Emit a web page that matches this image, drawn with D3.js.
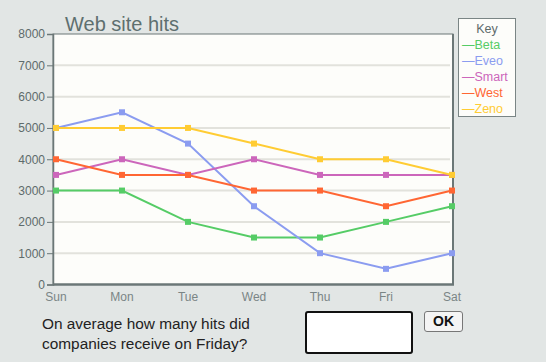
<!DOCTYPE html>
<html>
<head>
<meta charset="utf-8">
<script src="https://cdn.jsdelivr.net/npm/d3@7"></script>
<style>
  body { margin: 0; background: #e2e6e5; font-family: "Liberation Sans", Arial, sans-serif; }
  .canvas { position: relative; width: 546px; height: 362px; }
  .question { position: absolute; left: 42px; top: 314px; font-size: 15.4px; line-height: 20px; color: #222; }
  .answer { position: absolute; left: 305px; top: 311px; width: 104px; height: 39px; border: 2px solid #111; border-radius: 3px; background: #fff; }
  .ok { position: absolute; left: 424px; top: 311px; width: 37px; height: 19px; border: 1px solid #777; border-radius: 3px; background: #f4f4f4; font-weight: bold; font-size: 14px; text-align: center; line-height: 19px; color: #111; }
</style>
</head>
<body>
<div class="canvas"></div>
<script>
const width = 546;
const height = 362;
let [mt, mr, mb, ml] = [34, 93, 77, 53]

const days = ["Sun", "Mon", "Tue", "Wed", "Thu", "Fri", "Sat"]
const names = ["Beta", "Eveo", "Smart", "West", "Zeno"]
const colors = ["#55cc66", "#8b9cf0", "#cc66bb", "#ff6633", "#ffcc33"]
const beta = [3000, 3000, 2000, 1500, 1500, 2000, 2500]
const eveo = [5000, 5500, 4500, 2500, 1000, 500, 1000]
const smart = [3500, 4000, 3500, 4000, 3500, 3500, 3500]
const west = [4000, 3500, 3500, 3000, 3000, 2500, 3000]
const zeno = [5000, 5000, 5000, 4500, 4000, 4000, 3500]
const yTicks = [0, 1000, 2000, 3000, 4000, 5000, 6000, 7000, 8000]

const series = [beta, eveo, smart, west, zeno].map((v, i) => ({name: names[i], color: colors[i], values: v}))

const canvas = d3.select(".canvas")
const svg = canvas.append("svg")
    .attr("width", width)
    .attr("height", height)
    .style("position", "absolute")
    .style("left", 0).style("top", 0)

const x = d3.scalePoint().domain(days).range([56, 452])
const y = d3.scaleLinear().domain([0, 8000]).range([284.5, 34])

// plot area
svg.append("rect")
    .attr("x", ml).attr("y", mt)
    .attr("width", 400).attr("height", 250.5)
    .attr("fill", "#fdfdfa")
    .attr("stroke", "#6b7777").attr("stroke-width", 1)

// gridlines
svg.append("g").selectAll("line")
    .data(yTicks.filter(d => d > 0 && d < 8000))
    .enter().append("line")
    .attr("x1", ml + 1).attr("x2", 450)
    .attr("y1", d => y(d)).attr("y2", d => y(d))
    .attr("stroke", "#e2e2dc").attr("stroke-width", 2)

// right frame
svg.append("line").attr("x1", 453).attr("x2", 453).attr("y1", mt).attr("y2", 285)
    .attr("stroke", "#6b7777").attr("stroke-width", 2)

const yAxis = svg.append("g")
    .attr("transform", `translate(${ml},0)`)
    .call(d3.axisLeft(y).tickValues(yTicks).tickSize(6).tickPadding(2).tickFormat(d3.format("d")))
yAxis.select(".domain").attr("stroke", "#6b7777").attr("stroke-width", 1.5)
yAxis.selectAll(".tick line").attr("stroke", "#6b7777")
yAxis.selectAll("text").attr("fill", "#5e6b6b").style("font-size", "12px")
    .style("font-family", "Liberation Sans, Arial, sans-serif")

svg.append("line").attr("x1", ml).attr("x2", 454).attr("y1", 284.5).attr("y2", 284.5)
    .attr("stroke", "#6b7777").attr("stroke-width", 2.5)

svg.append("g").selectAll("text")
    .data(days)
    .enter().append("text")
    .attr("x", d => x(d))
    .attr("y", 301)
    .attr("text-anchor", "middle")
    .attr("fill", "#7a8585")
    .style("font-size", "12px")
    .text(d => d)

// lines
const line = d3.line().x((d, i) => x(days[i])).y(d => y(d))
const g = svg.append("g")
series.forEach(s => {
    g.append("path")
        .attr("d", line(s.values))
        .attr("fill", "none")
        .attr("stroke", s.color)
        .attr("stroke-width", 2)
    g.selectAll(null)
        .data(s.values)
        .enter().append("rect")
        .attr("x", (d, i) => x(days[i]) - 3)
        .attr("y", d => y(d) - 3)
        .attr("width", 6).attr("height", 6)
        .attr("fill", s.color)
})

// title
svg.append("text")
    .attr("x", 65).attr("y", 31)
    .attr("fill", "#5e6f6f")
    .style("font-size", "20px")
    .text("Web site hits")

// legend
const legend = svg.append("g").attr("transform", "translate(458,18)")
legend.append("rect")
    .attr("x", 0.5).attr("y", 0.5).attr("width", 57).attr("height", 98)
    .attr("fill", "#fdfdfa").attr("stroke", "#7a8585")
legend.append("text")
    .attr("x", 29).attr("y", 15)
    .attr("text-anchor", "middle")
    .attr("fill", "#5e6b6b")
    .style("font-size", "12.5px")
    .text("Key")
legend.selectAll(".item")
    .data(series)
    .enter().append("text")
    .attr("class", "item")
    .attr("x", 4)
    .attr("y", (d, i) => 31 + i * 16)
    .attr("fill", d => d.color)
    .style("font-size", "12.5px")
    .text(d => "\u2014" + d.name)

canvas.append("div").attr("class", "question")
    .html("On average how many hits did<br>companies receive on Friday?")
canvas.append("div").attr("class", "answer")
canvas.append("div").attr("class", "ok").text("OK")
</script>
</body>
</html>
